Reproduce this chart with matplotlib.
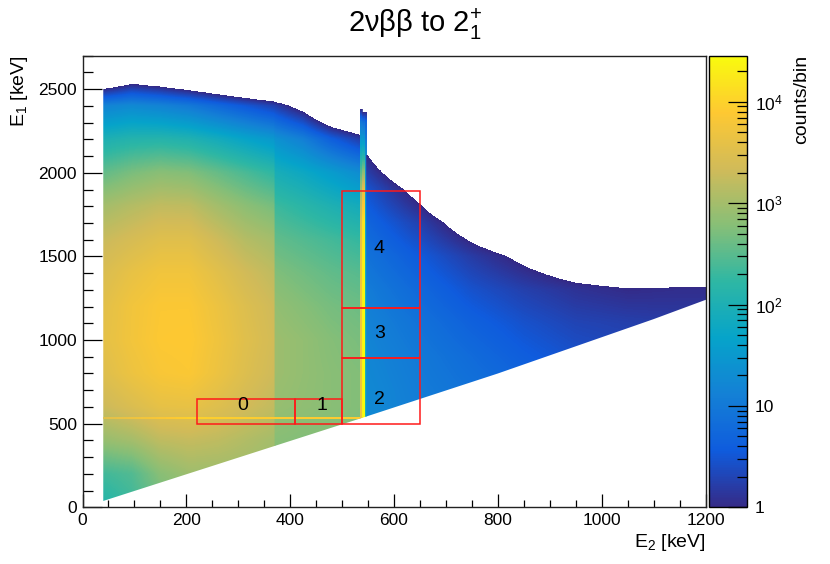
import numpy as np
import matplotlib
matplotlib.use("Agg")
import matplotlib.pyplot as plt
from matplotlib.colors import LinearSegmentedColormap, Normalize, LogNorm
from matplotlib.patches import Polygon, Rectangle
from matplotlib.cm import ScalarMappable
import matplotlib.ticker as mticker

plt.rcParams['font.family'] = ['Liberation Sans', 'DejaVu Sans']
plt.rcParams['mathtext.fontset'] = 'custom'
plt.rcParams['mathtext.rm'] = 'Liberation Sans'
plt.rcParams['mathtext.it'] = 'Liberation Sans'
plt.rcParams['mathtext.bf'] = 'Liberation Sans:bold'

# ---------------- texts ----------------
title = "2νββ to 2$_{1}^{+}$"
x_label = "E$_{2}$ [keV]"
y_label = "E$_{1}$ [keV]"
z_label = "counts/bin"

x_ticks = [0, 200, 400, 600, 800, 1000, 1200]
y_ticks = [0, 500, 1000, 1500, 2000, 2500]
z_ticks = [1, 10, 100, 1000, 10000]
z_ticklabels = ["1", "10", "$10^{2}$", "$10^{3}$", "$10^{4}$"]
z_max = 2.85e4

# ---------------- histogram content (log10 counts/bin) ----------------
e1_nodes = [0, 200, 400, 600, 800, 1000, 1200, 1400, 1600, 1800, 2000, 2200, 2400, 2600]

# left part of main triangle (E2 40..370)
al_e2 = [40, 95, 150, 205, 260, 315, 370]
al_log = [
    [2.10, 2.30, 2.60, 2.75, 2.85, 2.90, 2.90],
    [2.35, 2.45, 2.80, 2.95, 2.95, 2.95, 2.90],
    [2.90, 3.00, 3.20, 3.25, 3.20, 3.10, 3.00],
    [3.30, 3.45, 3.60, 3.62, 3.50, 3.35, 3.22],
    [3.50, 3.68, 3.82, 3.86, 3.68, 3.48, 3.32],
    [3.58, 3.75, 3.88, 3.90, 3.72, 3.52, 3.36],
    [3.55, 3.74, 3.86, 3.86, 3.68, 3.48, 3.32],
    [3.45, 3.62, 3.74, 3.74, 3.55, 3.35, 3.20],
    [3.28, 3.40, 3.52, 3.52, 3.32, 3.12, 3.00],
    [3.00, 3.12, 3.22, 3.20, 3.00, 2.82, 2.68],
    [2.55, 2.70, 2.80, 2.75, 2.58, 2.40, 2.22],
    [2.00, 2.10, 2.12, 2.05, 1.88, 1.68, 1.48],
    [1.15, 1.25, 1.15, 1.00, 0.75, 0.50, 0.25],
    [-1.20, -0.70, -0.90, -1.20, -1.50, -1.80, -2.00],
]

# right part of main triangle (E2 370..535)
ar_e2 = [370, 425, 480, 535]
ar_log = [
    [2.70, 2.70, 2.70, 2.65],
    [2.70, 2.70, 2.70, 2.65],
    [2.80, 2.75, 2.75, 2.70],
    [2.90, 2.85, 2.80, 2.75],
    [2.95, 2.87, 2.80, 2.75],
    [2.95, 2.87, 2.77, 2.70],
    [2.88, 2.78, 2.68, 2.62],
    [2.75, 2.65, 2.55, 2.48],
    [2.56, 2.46, 2.36, 2.26],
    [2.32, 2.18, 2.02, 1.88],
    [1.95, 1.78, 1.55, 1.30],
    [1.40, 1.10, 0.60, 0.20],
    [0.25, -0.25, -1.10, -1.50],
    [-2.00, -2.50, -2.50, -2.50],
]

# narrow full-energy band near E2 = 540 keV
band_e2_edges = [534.5, 538.5, 543.5, 546.5]
band_e1 = [500, 700, 900, 1100, 1300, 1500, 1700, 1900, 2100, 2300, 2500]
band_log_left = [3.70, 3.72, 3.75, 3.75, 3.75, 3.70, 3.55, 3.00, 2.00, 1.00, -1.50]
band_log_mid = [4.45, 4.45, 4.45, 4.42, 4.38, 4.33, 4.20, 3.60, 2.10, 0.90, -2.00]
band_log_right = [2.00, 2.00, 2.00, 2.00, 1.95, 1.90, 1.80, 1.60, 1.30, 0.70, -1.50]

# horizontal line at E1 ~ 535 keV
hline_e1 = [530, 539]
hline_e2 = [40, 205, 370, 535]
hline_log = [3.55, 3.98, 3.92, 3.92]

# sparse region right of the band (E2 550..1150)
b_e2 = [550, 650, 750, 850, 950, 1050, 1150]
b_e1 = [500, 700, 900, 1100, 1300, 1500, 1700, 1900, 2100, 2300]
b_log = [
    [1.25, 1.10, 0.95, 0.80, 0.60, 0.45, 0.30],
    [1.25, 1.05, 0.90, 0.75, 0.55, 0.40, 0.30],
    [1.20, 1.00, 0.80, 0.60, 0.45, 0.35, 0.25],
    [1.15, 0.90, 0.65, 0.45, 0.30, 0.25, 0.20],
    [1.05, 0.75, 0.45, 0.25, 0.10, 0.02, 0.05],
    [0.90, 0.55, 0.20, -0.10, -0.40, -0.60, -0.80],
    [0.70, 0.25, -0.30, -0.80, -1.20, -1.50, -1.50],
    [0.45, -0.20, -1.00, -1.50, -1.50, -1.50, -1.50],
    [0.00, -1.00, -1.50, -1.50, -1.50, -1.50, -1.50],
    [-1.00, -1.50, -1.50, -1.50, -1.50, -1.50, -1.50],
]

# kinematic lower edge of the populated area
edge_e2 = [40, 540, 800, 1100, 1200]
edge_e1 = [38, 536, 800, 1125, 1240]

# analysis boxes
box_e2_lo = [220, 410, 500, 500, 500]
box_e2_hi = [410, 500, 650, 650, 650]
box_e1_lo = [500, 500, 500, 893, 1190]
box_e1_hi = [650, 650, 893, 1190, 1890]
box_names = ["0", "1", "2", "3", "4"]
box_label_e2 = [309, 461, 572, 572, 572]
box_label_e1 = [611, 611, 645, 1040, 1549]

# ---------------- palette (ROOT kBird) ----------------
bird_rgb = [
    (0.2082, 0.1664, 0.5293), (0.0592, 0.3599, 0.8684), (0.0780, 0.5041, 0.8385),
    (0.0232, 0.6419, 0.7914), (0.1802, 0.7178, 0.6425), (0.5301, 0.7492, 0.4662),
    (0.8186, 0.7328, 0.3499), (0.9956, 0.7862, 0.1968), (0.9764, 0.9832, 0.0539),
]
cmap = LinearSegmentedColormap.from_list("bird", bird_rgb, N=256)
cmap.set_under((1, 1, 1, 0))
lmax = np.log10(z_max)
lnorm = Normalize(vmin=0.0, vmax=lmax)

# ---------------- figure ----------------
W, H = 830, 564
fig = plt.figure(figsize=(W / 100, H / 100), dpi=100)
ax = fig.add_axes([82.5 / W, 1 - 507.3 / H, (705.5 - 82.5) / W, (507.3 - 55.7) / H])

ymax = 2700
seam = 1.5


def lower(x):
    return float(np.interp(x, edge_e2, edge_e1))


def clip_poly(x0, x1):
    pts = [(x0, lower(x0))]
    for xe, ye in zip(edge_e2, edge_e1):
        if x0 < xe < x1:
            pts.append((xe, ye))
    pts += [(x1, lower(x1)), (x1, ymax), (x0, ymax)]
    return Polygon(pts, closed=True, transform=ax.transData, facecolor="none", edgecolor="none")


def draw_grid(xs, ys, z, x0, x1, zorder=1):
    xs = np.asarray(xs, float)
    ys = np.asarray(ys, float)
    z = np.asarray(z, float)
    dy = ys[1] - ys[0]
    if len(xs) > 1:
        dx = xs[1] - xs[0]
        ext = [xs[0] - dx / 2, xs[-1] + dx / 2, ys[0] - dy / 2, ys[-1] + dy / 2]
    else:
        ext = [x0, x1 + seam, ys[0] - dy / 2, ys[-1] + dy / 2]
    im = ax.imshow(z, origin="lower", extent=ext, aspect="auto", cmap=cmap, norm=lnorm,
                   interpolation="bilinear", interpolation_stage="data", zorder=zorder)
    im.set_clip_path(clip_poly(x0, x1 + seam))
    return im


draw_grid(al_e2, e1_nodes, al_log, al_e2[0], al_e2[-1])
draw_grid(ar_e2, e1_nodes, ar_log, ar_e2[0], band_e2_edges[0])
for k, col in enumerate([band_log_left, band_log_mid, band_log_right]):
    draw_grid([band_e2_edges[k]], band_e1, np.asarray(col)[:, None], band_e2_edges[k], band_e2_edges[k + 1])
draw_grid(b_e2, b_e1, b_log, band_e2_edges[-1], 1200)

# horizontal line
hl = ax.imshow(np.asarray(hline_log)[None, :], origin="lower",
               extent=[hline_e2[0] - 82.5, hline_e2[-1] + 82.5, hline_e1[0], hline_e1[1]],
               aspect="auto", cmap=cmap, norm=lnorm, interpolation="bilinear",
               interpolation_stage="data", zorder=1.5)
hl.set_clip_path(clip_poly(hline_e2[0], band_e2_edges[0]))

# boxes
for x0, x1, y0, y1 in zip(box_e2_lo, box_e2_hi, box_e1_lo, box_e1_hi):
    ax.add_patch(Rectangle((x0, y0), x1 - x0, y1 - y0, fill=False, edgecolor="#ff1a1a", lw=1.1, zorder=3))
for name, x, y in zip(box_names, box_label_e2, box_label_e1):
    ax.text(x, y, name, fontsize=14, ha="center", va="center", color="black", zorder=4)

ax.set_xlim(0, 1200)
ax.set_ylim(0, ymax)
ax.set_xticks(x_ticks)
ax.set_yticks(y_ticks)
ax.xaxis.set_minor_locator(mticker.MultipleLocator(50))
ax.yaxis.set_minor_locator(mticker.MultipleLocator(100))
ax.tick_params(axis="x", which="major", direction="in", length=9.5, width=0.9, labelsize=12.5, pad=4,
               top=False, bottom=True)
ax.tick_params(axis="x", which="minor", direction="in", length=4.8, width=0.9, top=False, bottom=True)
ax.tick_params(axis="y", which="major", direction="in", length=14, width=0.9, labelsize=12.5, pad=4,
               right=False, left=True)
ax.tick_params(axis="y", which="minor", direction="in", length=7, width=0.9, right=False, left=True)
for s in ax.spines.values():
    s.set_linewidth(1.0)
    s.set_color("#222222")

# colour bar
cax = fig.add_axes([709.3 / W, 1 - 507.3 / H, (746.7 - 709.3) / W, (507.3 - 55.7) / H])
sm = ScalarMappable(norm=LogNorm(vmin=1, vmax=z_max), cmap=cmap)
cb = fig.colorbar(sm, cax=cax)
cb.set_ticks(z_ticks)
cb.set_ticklabels(z_ticklabels)
cax.yaxis.set_minor_locator(mticker.LogLocator(base=10, subs=np.arange(2, 10), numticks=20))
cax.yaxis.set_minor_formatter(mticker.NullFormatter())
cax.tick_params(which="major", direction="in", length=14, width=0.9, labelsize=12.5, pad=6,
                right=True, left=False)
cax.tick_params(which="minor", direction="in", length=7, width=0.9, right=True, left=False)
cb.outline.set_linewidth(1.0)

# texts
fig.text(415 / W, 1 - 31.5 / H, title, fontsize=21, ha="center", va="baseline")
fig.text(705.5 / W, 1 - 532 / H, x_label, fontsize=14, ha="right", va="top")
fig.text(19 / W, 1 - 55 / H, y_label, fontsize=14, ha="center", va="top", rotation=90)
fig.text(802 / W, 1 - 55 / H, z_label, fontsize=14, ha="center", va="top", rotation=90)

fig.savefig("out.png", dpi=100)
